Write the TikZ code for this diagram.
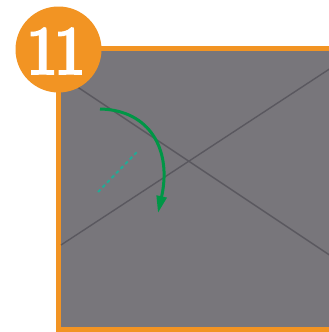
\documentclass[tikz,border=0pt]{standalone}
\usepackage{fontspec}
\newfontfamily\numfont[FakeBold=2.5]{Latin Modern Roman}
\usetikzlibrary{arrows.meta}
\definecolor{bggray}{RGB}{120,118,123}
\definecolor{frameor}{RGB}{242,148,35}
\definecolor{diag}{RGB}{90,88,95}
\definecolor{arrgreen}{RGB}{0,150,70}
\definecolor{teal}{RGB}{35,170,150}
\tikzset{
  diagline/.style={draw=diag, line width=1.4pt},
  turnarrow/.style={draw=arrgreen, line width=3pt, -{Triangle[length=17pt,width=10pt]}},
  foldline/.style={draw=teal, line width=2pt, dash pattern=on 3.5pt off 3pt},
  badge/.style={circle, fill=frameor, minimum size=86pt, inner sep=0pt},
}
\begin{document}
\begin{tikzpicture}[x=1pt,y=-1pt]
\useasboundingbox (0,0) rectangle (329,332);
\fill[white] (0,0) rectangle (329,332);
% square
\filldraw[fill=bggray, draw=frameor, line width=5.5pt] (58.5,48.5) rectangle (334,330);
% diagonals
\coordinate (a1) at (61,76);
\coordinate (a2) at (331,256);
\coordinate (b1) at (61,245);
\coordinate (b2) at (331,68);
\draw[diagline] (a1) -- (a2);
\draw[diagline] (b1) -- (b2);
% fold line
\coordinate (f1) at (98,192);
\coordinate (f2) at (137,152);
\draw[foldline] (f1) -- (f2);
% arrow
\coordinate (s) at (100,109);
\coordinate (t) at (158,213);
\draw[turnarrow] (s) .. controls (150,110) and (172,150) .. (t);
% badge
\node[badge] (badge) at (58.5,49.5) {};
\node[text=white, font={\numfont\bfseries\fontsize{70}{70}\selectfont}, xscale=0.8, inner sep=0pt] (num) at (56,51) {1\kern-5pt1};
\end{tikzpicture}
\end{document}
